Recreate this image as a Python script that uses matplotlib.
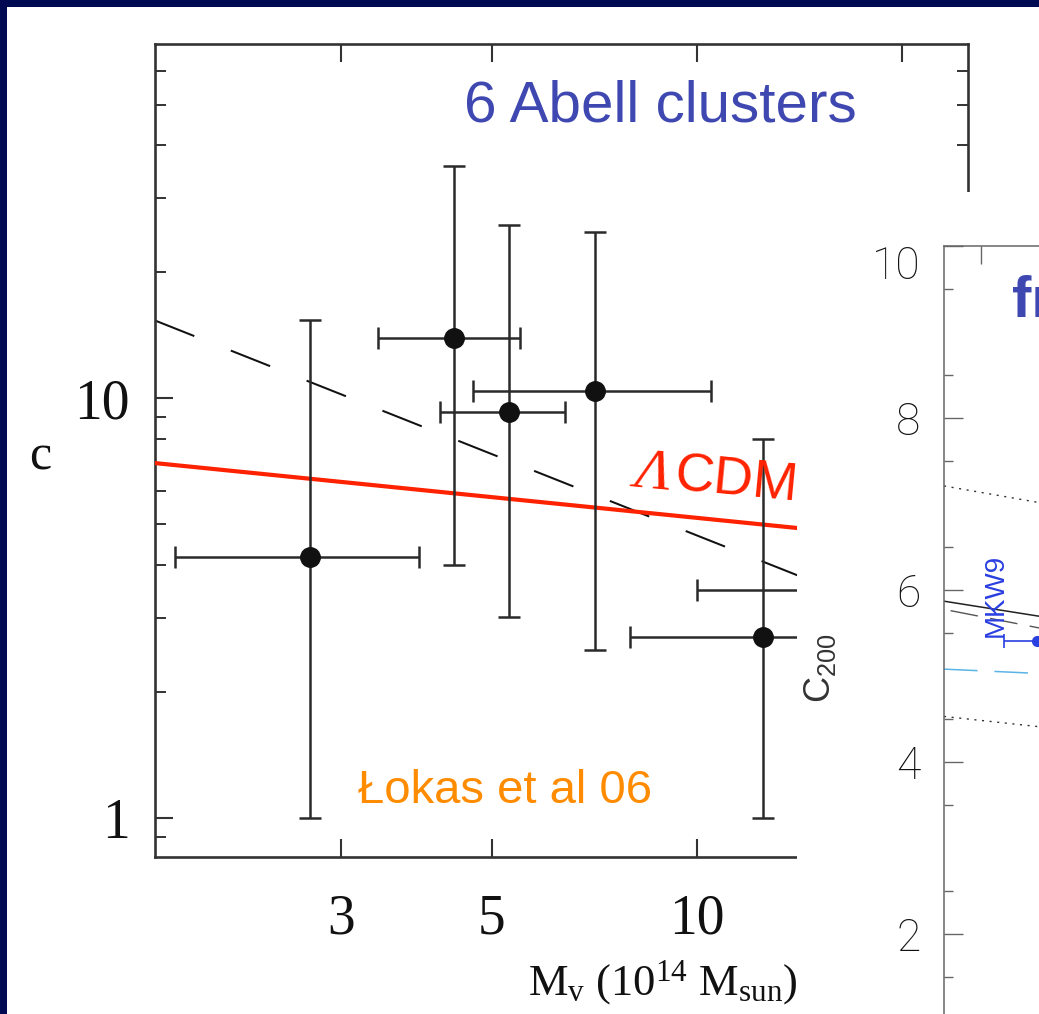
import numpy as np
import matplotlib
matplotlib.use("Agg")
import matplotlib.pyplot as plt
from matplotlib.patches import Rectangle
from matplotlib.ticker import FixedLocator, FixedFormatter, NullLocator, LogLocator, NullFormatter

plt.rcParams['mathtext.fontset'] = 'custom'
plt.rcParams['mathtext.rm'] = 'Liberation Serif'
plt.rcParams['mathtext.it'] = 'Liberation Serif:italic'
plt.rcParams['mathtext.sf'] = 'Liberation Sans'

# ---------------- data: left panel (Lokas et al 06, 6 Abell clusters) -------------
mass = [2.70, 4.40, 5.30, 7.08, 12.5, 16.0]          # 10^14 Msun
conc = [4.18, 13.9, 9.26, 10.4, 2.70, 3.49]
mass_lo = [1.71, 3.40, 4.19, 4.69, 7.96, 10.0]
mass_hi = [3.91, 5.49, 6.40, 10.5, 19.0, 24.0]
conc_lo = [1.0, 4.0, 3.01, 2.51, 1.0, 1.5]
conc_hi = [15.3, 35.7, 25.8, 24.8, 7.99, 8.5]

lcdm_mass = [1.6, 25.0]
lcdm_c = [7.0, 4.46]
fit_mass = [1.6, 25.0]
fit_c = [15.3, 2.61]

x_ticks = [3, 5, 10, 20]
x_ticklabels = ['3', '5', '10', '']
y_ticks = [1, 10]
y_ticklabels = ['1', '10']

# ---------------- data: right panel (partially visible) ----------------
band_x = [0.0, 1.1]
upper_dotted = [7.21, 7.00]
lower_dotted = [4.53, 4.40]
fit_solid = [5.87, 5.68]
fit_dashed_x = [0.07, 1.1]
fit_dashed = [5.76, 5.54]
lcdm_blue = [5.08, 5.025]
mkw9_x = [0.99]
mkw9_c = [5.41]
mkw9_xerr = [0.35]
r_yticks = [2, 4, 6, 8, 10]
r_yticklabels = ['2', '4', '6', '8', '10']

W, H = 1039, 1014
fx = lambda px: px / W
fy = lambda py: 1 - py / H

fig = plt.figure(figsize=(W / 100, H / 100), dpi=100)
fig.patch.set_facecolor('#000A52')
fig.add_artist(Rectangle((fx(7), 0), 1, fy(7), transform=fig.transFigure,
                         facecolor='white', edgecolor='none', zorder=0))

# ---------------- left axes ----------------
ax = fig.add_axes([fx(155), fy(857), (968 - 155) / W, (857 - 44) / H], zorder=1)
ax.set_facecolor('white')
ax.set_xscale('log')
ax.set_yscale('log')
ax.set_xlim(1.60, 25.0)
ax.set_ylim(0.807, 69.7)

spine_col = '#333333'
for s in ax.spines.values():
    s.set_linewidth(1.9)
    s.set_color(spine_col)

ax.xaxis.set_major_locator(FixedLocator(x_ticks))
ax.xaxis.set_major_formatter(FixedFormatter(x_ticklabels))
ax.xaxis.set_minor_locator(NullLocator())
ax.yaxis.set_major_locator(FixedLocator(y_ticks))
ax.yaxis.set_major_formatter(FixedFormatter(y_ticklabels))
ax.yaxis.set_minor_locator(LogLocator(base=10, subs=np.arange(2, 10)))
ax.yaxis.set_minor_formatter(NullFormatter())

ax.tick_params(which='both', direction='in', top=True, right=True, color=spine_col)
ax.tick_params(which='major', length=13, width=1.5)
ax.tick_params(which='minor', length=8, width=1.4)
ax.tick_params(axis='x', which='major', pad=26)
ax.tick_params(axis='y', which='major', pad=18)
for lab in ax.get_xticklabels() + ax.get_yticklabels():
    lab.set_fontfamily('Liberation Serif')
    lab.set_fontsize(40)
    lab.set_color('#111111')

# theory lines
ax.plot(fit_mass, fit_c, color='#111111', lw=1.45, ls=(0, (21, 19.5)), zorder=2)
ax.plot(lcdm_mass, lcdm_c, color='#111111', lw=1.0, zorder=3)
ax.plot(lcdm_mass, lcdm_c, color='#FF2200', lw=3.0, zorder=3)

# data with asymmetric errors
m = np.array(mass); c = np.array(conc)
xerr = [m - np.array(mass_lo), np.array(mass_hi) - m]
yerr = [c - np.array(conc_lo), np.array(conc_hi) - c]
ax.errorbar(m, c, xerr=xerr, yerr=yerr, fmt='o', color='#111111', ecolor='#2A2A2A',
            ms=14, elinewidth=1.8, capsize=8, capthick=1.8, zorder=4)

# Lambda-CDM label (below the overlay, so it is cut at the second chart)
rot = -5.5
fig.text(fx(634), fy(486), 'Λ', color='#FF2200', fontsize=42, family='Liberation Serif',
         style='italic', rotation=rot, rotation_mode='anchor', ha='left', va='baseline', zorder=4)
fig.text(fx(673), fy(489.5), 'CDM', color='#FF2200', fontsize=39, family='Liberation Sans',
         rotation=rot, rotation_mode='anchor', ha='left', va='baseline', zorder=4)

# texts on left panel
fig.text(fx(660), fy(122), '6 Abell clusters', ha='center', va='baseline',
         fontsize=42, family='Liberation Sans', color='#3F48B0', zorder=3)
fig.text(fx(358), fy(803), 'Łokas et al 06', ha='left', va='baseline',
         fontsize=34, family='Liberation Sans', color='#FF8C00', zorder=3)
fig.text(fx(40), fy(457), 'c', ha='center', va='center',
         fontsize=36, family='Liberation Serif', color='#111111', zorder=3)
fig.text(fx(528), fy(995), r'$\mathrm{M}_\mathrm{v}$ (10$^{14}$ M$_{\mathrm{sun}}$)',
         ha='left', va='baseline', fontsize=32, family='Liberation Serif',
         color='#111111', zorder=3)

# white overlay of the second (overlapping) chart
fig.add_artist(Rectangle((fx(797), 0), 1, fy(192), transform=fig.transFigure,
                         facecolor='white', edgecolor='none', zorder=5))

# ---------------- right axes (partially visible) ----------------
ax2 = fig.add_axes([fx(944), 0, 188 / W, (1014 - 246) / H], zorder=10)
ax2.set_facecolor('none')
ax2.set_xlim(0, 2)
ax2.set_ylim(1.07, 10)
for k in ['right', 'bottom']:
    ax2.spines[k].set_visible(False)
for k in ['left', 'top']:
    ax2.spines[k].set_color('#666666')
    ax2.spines[k].set_linewidth(1.1)
ax2.yaxis.set_major_locator(FixedLocator(r_yticks))
ax2.yaxis.set_major_formatter(FixedFormatter(r_yticklabels))
ax2.yaxis.set_minor_locator(FixedLocator(np.arange(1.5, 10, 1.0)))
ax2.xaxis.set_major_locator(FixedLocator([0.39]))
ax2.xaxis.set_major_formatter(FixedFormatter(['']))
ax2.tick_params(axis='x', which='major', direction='in', top=True, bottom=False,
                labeltop=False, labelbottom=False, length=13, width=1.0, color='#666666')
ax2.tick_params(axis='y', which='major', direction='in', length=13.5, width=1.0,
                color='#666666', pad=17)
ax2.tick_params(axis='y', which='minor', direction='in', length=6.5, width=1.0, color='#666666')
for lab in ax2.get_yticklabels():
    lab.set_fontfamily('Roboto')
    lab.set_fontweight('light')
    lab.set_fontsize(32)
    lab.set_color('#111111')
ax2.yaxis.get_major_ticks()[-1].label1.set_verticalalignment('top')

ax2.plot(band_x, upper_dotted, color='#333333', lw=1.0, ls=(0, (1.5, 4)), clip_on=False)
ax2.plot(band_x, lower_dotted, color='#333333', lw=1.0, ls=(0, (1.5, 4)), clip_on=False)
ax2.plot(band_x, fit_solid, color='#222222', lw=1.1)
ax2.plot(fit_dashed_x, fit_dashed, color='#555555', lw=1.0, ls=(0, (20, 9)))
ax2.plot(band_x, lcdm_blue, color='#5AB4E5', lw=1.1, ls=(0, (22, 11)))
ax2.errorbar(mkw9_x, mkw9_c, xerr=mkw9_xerr, fmt='o', color='#2A3FE0', ms=7,
             elinewidth=1.2, capsize=5, capthick=1.2)
ax2.text(0.55, 5.94, 'MKW9', rotation=90, ha='center', va='center', fontsize=20,
         family='Liberation Sans', color='#2A3FE0')

fig.text(fx(1012), fy(317), 'fr', ha='left', va='baseline', fontsize=42,
         family='Liberation Sans', weight='bold', color='#3F48B0', zorder=11)
fig.text(fx(820), fy(668), r'$\mathsf{C_{200}}$', rotation=90, ha='center', va='center',
         fontsize=26, color='#333333', zorder=11)

fig.savefig('out.png', dpi=100, facecolor=fig.get_facecolor())
